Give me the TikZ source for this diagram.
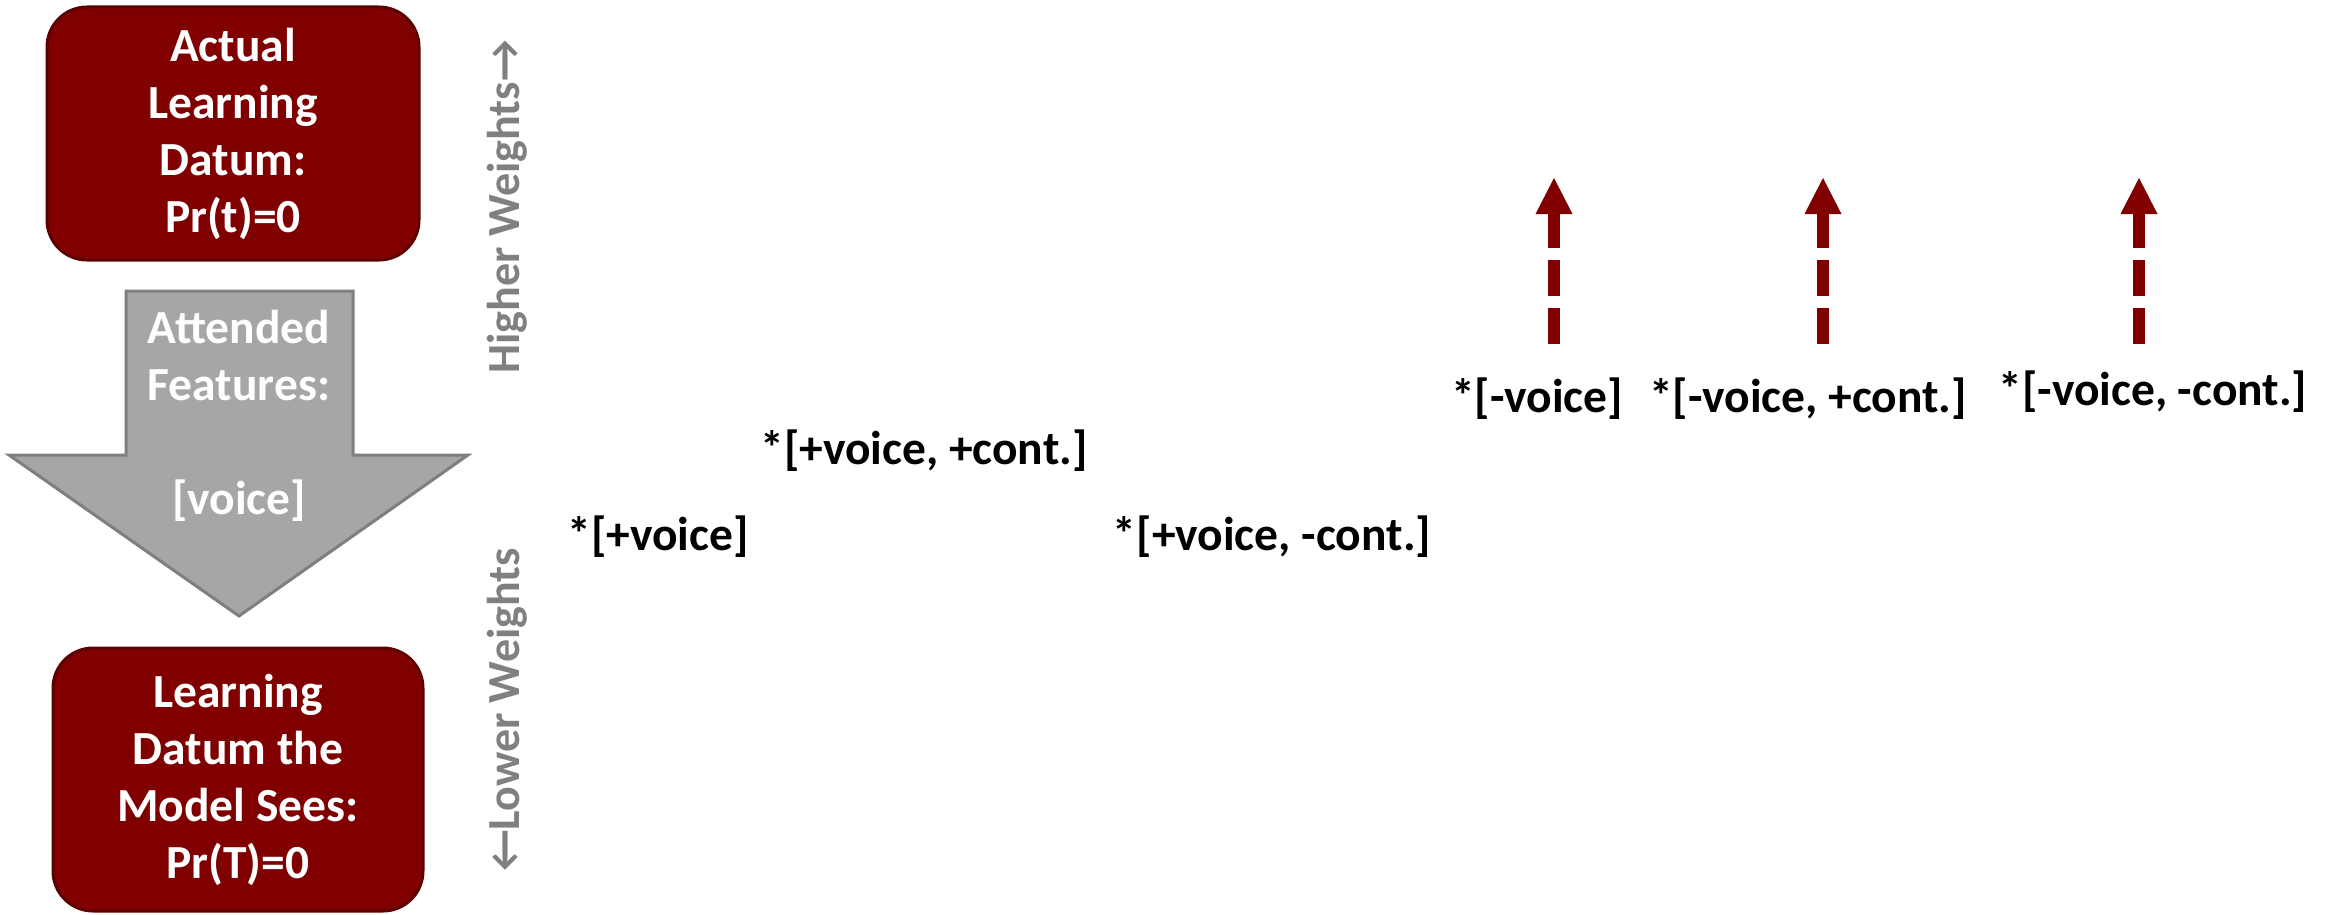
\documentclass[tikz,border=0pt]{standalone}
\usepackage{fontspec}
\setmainfont{Carlito}
\usetikzlibrary{shapes.misc}
\definecolor{maroon}{HTML}{800000}
\definecolor{maroonedge}{HTML}{5E0000}
\definecolor{arrowgray}{HTML}{A6A6A6}
\definecolor{arrowedge}{HTML}{7F7F7F}
\definecolor{axisgray}{HTML}{808080}
\tikzset{
  bigfont/.style={font=\fontsize{47.5}{57}\selectfont\bfseries},
  axisfont/.style={font=\fontsize{46}{57}\selectfont\bfseries},
  databox/.style={bigfont, rectangle, rounded corners=40pt, fill=maroon,
    draw=maroonedge, line width=3pt, text=white, align=center, inner sep=0pt},
  constraint/.style={bigfont, text=black, inner sep=0pt},
  axislabel/.style={axisfont, text=axisgray, rotate=90, inner sep=0pt},
  riseshaft/.style={draw=maroon, line width=12pt, dash pattern=on 36pt off 12pt},
  risehead/.style={fill=maroon}
}
\begin{document}
\begin{tikzpicture}[x=1pt,y=1pt]
\useasboundingbox (0,0) rectangle (2333,-915);

% boxes for the observed and perceived data
\node[databox, minimum width=372pt, minimum height=253pt] (actual) at (233,-133.5)
  {Actual\\Learning\\Datum:\\Pr(t)=0};
\node[databox, minimum width=370pt, minimum height=263pt] (seen) at (238,-779.5)
  {Learning\\Datum the\\Model Sees:\\Pr(T)=0};

% broad downward arrow between the boxes
\draw[fill=arrowgray, draw=arrowedge, line width=3pt, line join=miter]
  (126,-291) -- (353,-291) -- (353,-455) -- (468,-455) -- (239,-616)
  -- (9,-455) -- (126,-455) -- cycle;
\node[bigfont, text=white, align=center, inner sep=0pt] (attended) at (239,-416)
  {Attended\\Features:\\[57pt]{[voice]}};

% weight axis labels
\node[axislabel] (higher) at (507,-207) {Higher Weights→};
\node[axislabel] (lower) at (507,-710) {←Lower Weights};

% constraints
\node[constraint] (pv)   at (658,-537)  {*[+voice]};
\node[constraint] (pvpc) at (924,-451)  {*[+voice, +cont.]};
\node[constraint] (pvmc) at (1272,-537) {*[+voice, -cont.]};
\node[constraint] (mv)   at (1537,-399) {*[-voice]};
\node[constraint] (mvpc) at (1808,-399) {*[-voice, +cont.]};
\node[constraint] (mvmc) at (2153,-392) {*[-voice, -cont.]};

% rising dashed arrows over the [-voice] constraints
\coordinate (r1) at (1554,-344);
\coordinate (r2) at (1823,-344);
\coordinate (r3) at (2139,-344);
\foreach \r in {r1,r2,r3}{
  \draw[riseshaft] (\r) -- ++(0,130) coordinate (\r h);
  \fill[risehead] ([xshift=-18.5pt]\r h) -- ([xshift=18.5pt]\r h)
    -- ([yshift=36pt]\r h) -- cycle;
}
\end{tikzpicture}
\end{document}
